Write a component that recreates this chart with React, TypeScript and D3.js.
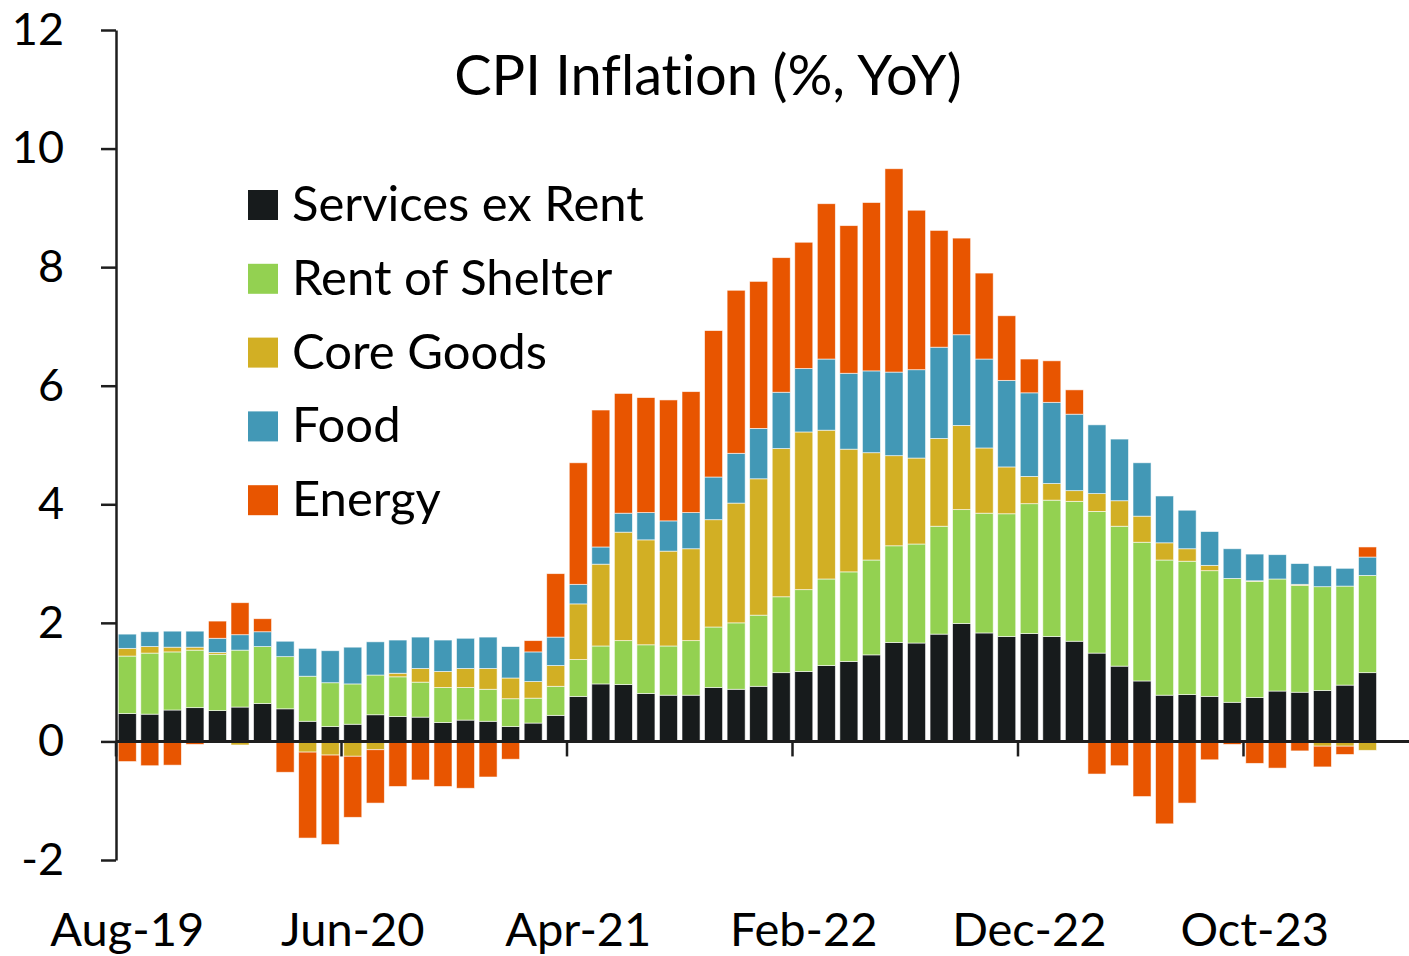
import React, { useEffect, useRef } from "react";
import * as d3 from "d3";

// monthly categories, Aug-19 .. Mar-24
const months = [
  "Aug-19", "Sep-19", "Oct-19", "Nov-19", "Dec-19", "Jan-20", "Feb-20", "Mar-20", "Apr-20", "May-20",
  "Jun-20", "Jul-20", "Aug-20", "Sep-20", "Oct-20", "Nov-20", "Dec-20", "Jan-21", "Feb-21", "Mar-21",
  "Apr-21", "May-21", "Jun-21", "Jul-21", "Aug-21", "Sep-21", "Oct-21", "Nov-21", "Dec-21", "Jan-22",
  "Feb-22", "Mar-22", "Apr-22", "May-22", "Jun-22", "Jul-22", "Aug-22", "Sep-22", "Oct-22", "Nov-22",
  "Dec-22", "Jan-23", "Feb-23", "Mar-23", "Apr-23", "May-23", "Jun-23", "Jul-23", "Aug-23", "Sep-23",
  "Oct-23", "Nov-23", "Dec-23", "Jan-24", "Feb-24", "Mar-24",
];

const servicesExRent = [
  0.47, 0.46, 0.53, 0.57, 0.52, 0.58, 0.64, 0.55, 0.34, 0.25,
  0.29, 0.45, 0.42, 0.41, 0.32, 0.36, 0.34, 0.25, 0.31, 0.44,
  0.76, 0.97, 0.96, 0.81, 0.78, 0.78, 0.91, 0.88, 0.93, 1.16,
  1.18, 1.28, 1.35, 1.46, 1.67, 1.66, 1.81, 1.99, 1.83, 1.77,
  1.82, 1.77, 1.69, 1.49, 1.27, 1.02, 0.78, 0.79, 0.76, 0.66,
  0.74, 0.85, 0.83, 0.86, 0.95, 1.16,
];
const rentOfShelter = [
  0.97, 1.03, 0.98, 0.97, 0.95, 0.96, 0.96, 0.88, 0.76, 0.74,
  0.68, 0.67, 0.67, 0.59, 0.59, 0.55, 0.54, 0.47, 0.42, 0.49,
  0.62, 0.64, 0.74, 0.82, 0.83, 0.92, 1.02, 1.12, 1.2, 1.28,
  1.38, 1.46, 1.51, 1.6, 1.63, 1.67, 1.82, 1.92, 2.02, 2.07,
  2.19, 2.3, 2.36, 2.39, 2.36, 2.34, 2.28, 2.25, 2.12, 2.09,
  1.96, 1.89, 1.8, 1.75, 1.67, 1.64,
];
const coreGoods = [
  0.13, 0.11, 0.08, 0.05, 0.03, -0.06, 0, 0, -0.18, -0.23,
  -0.25, -0.14, 0.06, 0.23, 0.27, 0.32, 0.35, 0.35, 0.28, 0.35,
  0.94, 1.38, 1.83, 1.77, 1.6, 1.55, 1.81, 2.02, 2.3, 2.5,
  2.66, 2.51, 2.07, 1.81, 1.52, 1.45, 1.48, 1.42, 1.1, 0.79,
  0.46, 0.28, 0.18, 0.3, 0.43, 0.44, 0.29, 0.21, 0.09, -0.01,
  0.01, -0.01, 0.02, -0.08, -0.08, -0.15,
];
const food = [
  0.24, 0.25, 0.27, 0.27, 0.24, 0.26, 0.25, 0.26, 0.47, 0.54,
  0.62, 0.56, 0.56, 0.53, 0.53, 0.51, 0.53, 0.53, 0.5, 0.48,
  0.33, 0.29, 0.32, 0.46, 0.51, 0.61, 0.72, 0.84, 0.85, 0.95,
  1.07, 1.2, 1.28, 1.38, 1.41, 1.49, 1.54, 1.53, 1.5, 1.46,
  1.41, 1.37, 1.29, 1.16, 1.04, 0.9, 0.79, 0.65, 0.57, 0.5,
  0.45, 0.41, 0.35, 0.35, 0.3, 0.31,
];
const energy = [
  -0.34, -0.41, -0.4, -0.05, 0.29, 0.54, 0.22, -0.52, -1.45, -1.51,
  -1.03, -0.9, -0.76, -0.65, -0.76, -0.79, -0.6, -0.3, 0.19, 1.07,
  2.05, 2.31, 2.02, 1.94, 2.04, 2.04, 2.47, 2.75, 2.48, 2.27,
  2.13, 2.62, 2.49, 2.84, 3.43, 2.69, 1.97, 1.63, 1.45, 1.09,
  0.57, 0.7, 0.41, -0.55, -0.41, -0.93, -1.39, -1.04, -0.31, -0.04,
  -0.37, -0.44, -0.16, -0.35, -0.14, 0.17,
];

const seriesNames = ["Services ex Rent", "Rent of Shelter", "Core Goods", "Food", "Energy"];
const seriesColors = ["#171b1c", "#93d151", "#d2af24", "#4298b6", "#e85500"];
const yTicks = [-2, 0, 2, 4, 6, 8, 10, 12];
const xTickLabels = ["Aug-19", "Jun-20", "Apr-21", "Feb-22", "Dec-22", "Oct-23"];

const W = 1409;
const H = 956;
const FONT = "Lato, 'Open Sans', sans-serif";

export default function App() {
  const ref = useRef<SVGSVGElement>(null);

  useEffect(() => {
    const svg = d3.select(ref.current);
    svg.selectAll("*").remove();

    const cols = [servicesExRent, rentOfShelter, coreGoods, food, energy];
    const rows = months.map((m, i) => {
      const r: any = { month: m };
      seriesNames.forEach((s, k) => (r[s] = cols[k][i]));
      return r;
    });

    const stacked = d3.stack().keys(seriesNames).offset(d3.stackOffsetDiverging)(rows);

    const left = 116;
    const step = 22.55;
    const x = d3.scaleBand().domain(months).range([left, left + step * months.length])
      .paddingInner(0.2).paddingOuter(0.1);
    const y = d3.scaleLinear().domain([-2, 12]).range([860, 30]);

    // bars
    svg.append("g").selectAll("g").data(stacked).join("g")
      .attr("fill", (d, i) => seriesColors[i])
      .selectAll("rect").data(d => d).join("rect")
      .attr("x", d => x(d.data.month as string)!)
      .attr("width", x.bandwidth())
      .attr("y", d => y(Math.max(d[0], d[1])))
      .attr("height", d => Math.abs(y(d[0]) - y(d[1])))
      .attr("stroke", "#ffffff").attr("stroke-width", 0.8).attr("stroke-opacity", 0.7);

    // y axis
    const yAxis = svg.append("g").attr("transform", `translate(${left},0)`)
      .call(d3.axisLeft(y).tickValues(yTicks).tickFormat(d => String(d))
        .tickSize(15).tickPadding(37).tickSizeOuter(0));
    yAxis.select(".domain").attr("stroke", "#1e1e1e").attr("stroke-width", 2.5);
    yAxis.selectAll(".tick line").attr("stroke", "#1e1e1e").attr("stroke-width", 2.5);
    yAxis.selectAll("text").attr("font-family", FONT).attr("font-size", 45).attr("fill", "#000");

    // x axis on zero line
    const y0 = y(0);
    const xAxis = svg.append("g").attr("transform", `translate(0,${y0})`)
      .call(d3.axisBottom(x).tickValues(xTickLabels).tickSize(0).tickPadding(171).tickSizeOuter(0));
    xAxis.select(".domain").remove();
    xAxis.selectAll("text").attr("font-family", FONT).attr("font-size", 47).attr("fill", "#000");
    xAxis.selectAll(".tick").each(function () {
      d3.select(this).append("line")
        .attr("x1", -step / 2).attr("x2", -step / 2)
        .attr("y1", 0).attr("y2", 15)
        .attr("stroke", "#1e1e1e").attr("stroke-width", 2.5);
    });
    svg.append("line")
      .attr("x1", left).attr("x2", W).attr("y1", y0).attr("y2", y0)
      .attr("stroke", "#1e1e1e").attr("stroke-width", 3);

    // title
    svg.append("text")
      .attr("x", 708).attr("y", 95)
      .attr("text-anchor", "middle")
      .attr("font-family", FONT).attr("font-size", 56)
      .style("font-variant-ligatures", "none")
      .text("CPI Inflation (%, YoY)");

    // legend
    const legend = svg.append("g").attr("transform", "translate(248,190)");
    seriesNames.forEach((s, i) => {
      const row = legend.append("g").attr("transform", `translate(0,${i * 73.8})`);
      row.append("rect").attr("width", 30).attr("height", 30).attr("fill", seriesColors[i]);
      row.append("text").attr("x", 44).attr("y", 31)
        .attr("font-family", FONT).attr("font-size", 49).attr("fill", "#000")
        .text(s);
    });
  }, []);

  return (
    <svg ref={ref} width={W} height={H}
      style={{ position: "absolute", left: 0, top: 0, background: "#fff" }} />
  );
}
